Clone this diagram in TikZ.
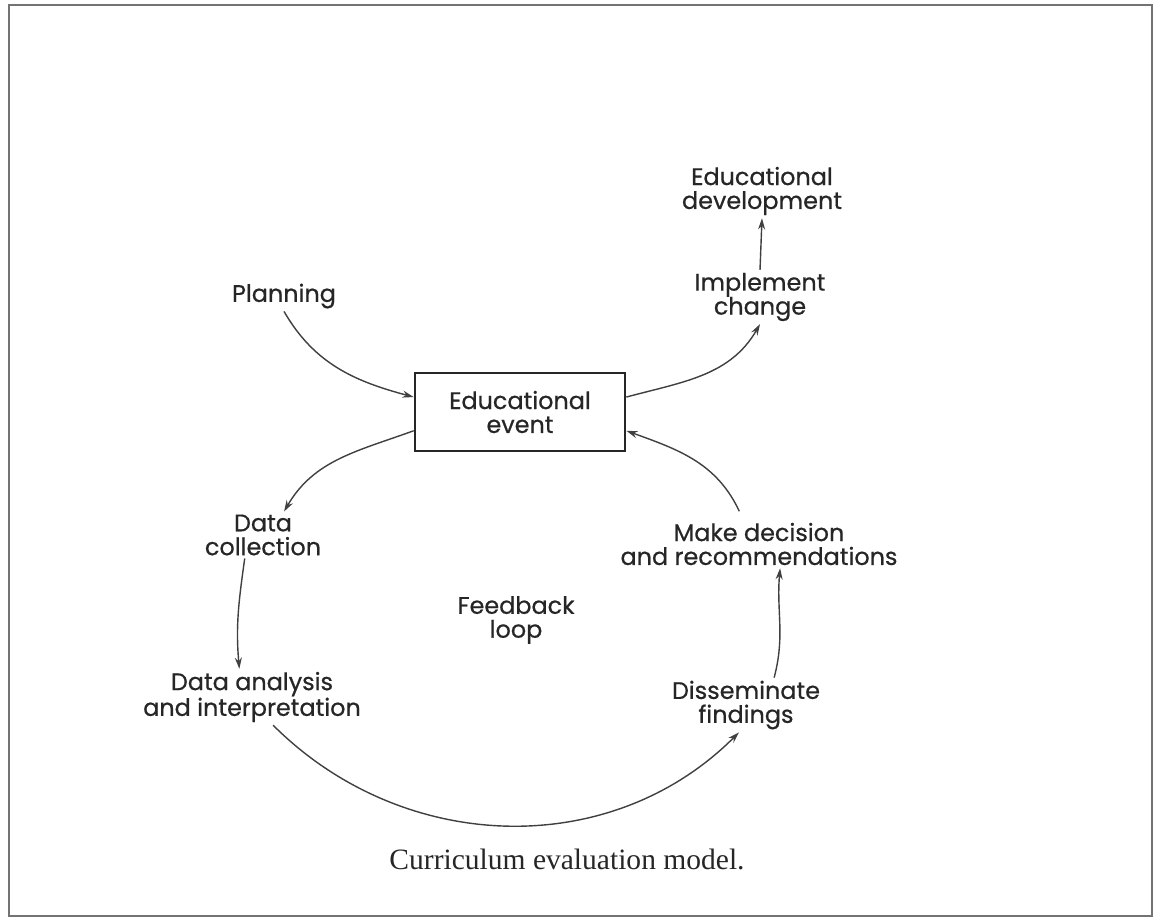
\documentclass[tikz,border=0pt]{standalone}
\usepackage{fontspec}
\setmainfont{Poppins}[FakeBold=0.6]
\newfontfamily\capfont{Liberation Serif}
\usetikzlibrary{arrows.meta}

\tikzset{
    lbl/.style={align=center, text=black!85, font=\fontsize{17}{17}\selectfont, inner sep=2pt},
    evbox/.style={lbl, draw=black!85, line width=1.8pt, minimum width=5.25cm, minimum height=1.95cm},
    arr/.style={-{Stealth[length=8pt,width=5pt]}, draw=black!75, line width=1pt}
}

\begin{document}
\begin{tikzpicture}[x=0.025cm, y=-0.025cm]
        \useasboundingbox (0,0) rectangle (1155,918);
        \draw[black!55, line width=1.4pt] (9,5) rectangle (1152,916);

        \node[lbl] (dev) at (762,191) {Educational\\development};
        \node[lbl] (impl) at (760,297) {Implement\\change};
        \node[lbl] (planning) at (284,296) {Planning};
        \node[evbox] (event) at (520,412) {Educational\\event};
        \node[lbl] (collect) at (263,535) {Data\\collection};
        \node[lbl] (analysis) at (252,697) {Data analysis\\and interpretation};
        \node[lbl] (dissem) at (746,705) {Disseminate\\findings};
        \node[lbl] (decide) at (759,544) {Make decision\\and recommendations};
        \node[lbl] (feedback) at (516,620) {Feedback\\loop};
        \node[text=black!85, font=\capfont\fontsize{21}{23}\selectfont] (caption) at (567,859) {Curriculum evaluation model.};

        \draw[arr] (impl.north) -- (dev.south);
        \draw[arr] (planning.south) to[out=-60, in=165] (event.172);
        \draw[arr] (event.8) to[out=15, in=-120] (impl.south);
        \draw[arr] (event.190) to[out=200, in=60] ([xshift=15pt]collect.north);
        \draw[arr] ([xshift=-13pt]collect.south) to[out=262, in=95] ([xshift=-9pt]analysis.north);
        \draw[arr] ([xshift=15pt]analysis.south) to[out=-45, in=-135] ([xshift=-5pt]dissem.south);
        \draw[arr] ([xshift=20pt]dissem.north) to[out=75, in=-95] ([xshift=15pt]decide.south);
        \draw[arr] ([xshift=-14pt,yshift=6pt]decide.north) to[out=115, in=-20] (event.-10);
\end{tikzpicture}
\end{document}
